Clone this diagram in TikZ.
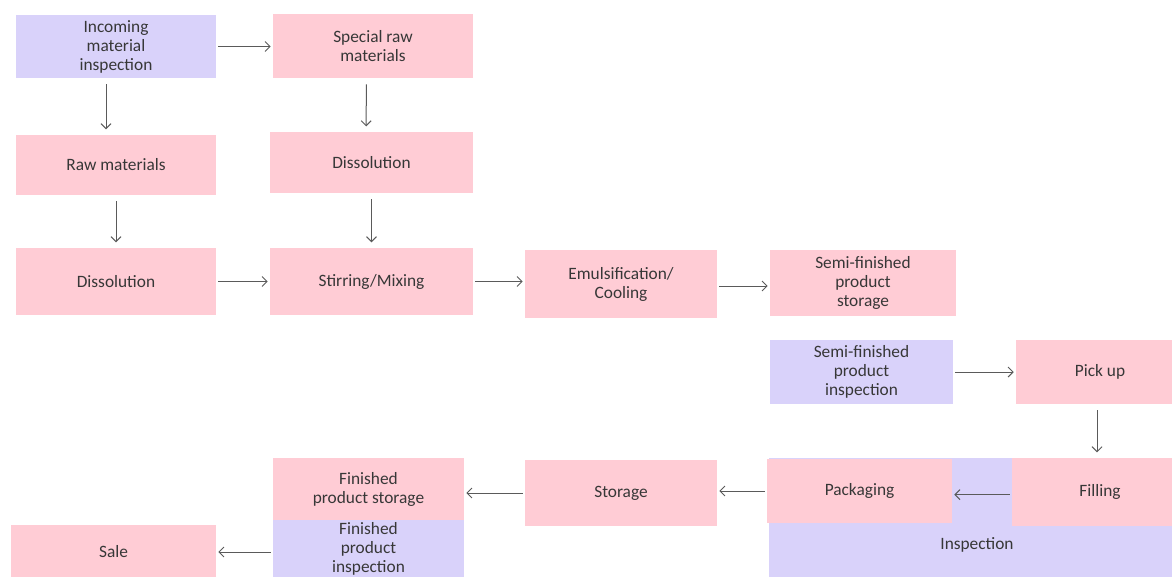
\documentclass[tikz,border=0pt]{standalone}
\usepackage{fontspec}
\setmainfont{Carlito}
\usetikzlibrary{arrows.meta}

\definecolor{stepPink}{RGB}{255,204,213}
\definecolor{checkLilac}{RGB}{217,210,250}
\definecolor{txtGray}{RGB}{55,55,55}
\definecolor{arrGray}{RGB}{90,90,90}

\tikzset{
    stage/.style={rectangle, fill=stepPink, inner sep=2pt, align=center,
        text=txtGray, font=\fontsize{13}{14.3}\selectfont},
    check/.style={stage, fill=checkLilac},
    sz/.style 2 args={minimum width=#1*0.75pt, minimum height=#2*0.75pt},
    flow/.style={arrGray, line width=0.75pt,
        -{Straight Barb[length=3.75pt,width=7.5pt]}, shorten <=1.5pt, shorten >=1.5pt},
    down/.style={flow, shorten <=4.5pt, shorten >=4pt}
}

\begin{document}
\begin{tikzpicture}[x=0.75pt, y=-0.75pt]
    \clip (0,0) rectangle (1172,576);
    \fill[white] (0,0) rectangle (1172,576);

    % intake and preparation
    \node[check, sz={200}{63}] (inc) at (116,46.5) {Incoming\\material\\inspection};
    \node[stage, sz={200}{64}] (spec) at (373,46) {Special raw\\materials};
    \node[stage, sz={200}{60}] (raw) at (116,165) {Raw materials};
    \node[stage, sz={203}{61}] (dis1) at (371.5,162.5) {Dissolution};
    \node[stage, sz={200}{67}] (dis2) at (116,281.5) {Dissolution};
    \node[stage, sz={203}{67}] (mix) at (371.5,281.5) {Stirring/Mixing};
    \node[stage, sz={192}{68}] (emul) at (621,284) {Emulsification/\\Cooling};
    \node[stage, sz={186}{66}] (semist) at (863,283) {Semi-finished\\product\\storage};

    % semi-finished goods
    \node[check, sz={183}{64}] (semiin) at (861.5,372) {Semi-finished\\product\\inspection};
    \node[stage, sz={168}{64}] (pick) at (1100,372) {Pick up};

    % filling and packing under inspection
    \node[check, sz={420}{122}] (insp) at (979,519) {};
    \node[check, inner sep=0pt] (insplbl) at (977,545) {Inspection};
    \node[stage, sz={185}{64}] (pack) at (859.5,491) {Packaging};
    \node[stage, sz={176}{68}] (fill) at (1100,492) {Filling};
    \node[stage, sz={192}{66}] (stor) at (621,493) {Storage};

    % finished goods
    \node[stage, sz={191}{62}] (finst) at (368.5,489) {Finished\\product storage};
    \node[check, sz={191}{58}] (finin) at (368.5,549) {Finished\\product\\inspection};
    \node[stage, sz={205}{54}] (sale) at (113.5,552) {Sale};

    % connectors
    \draw[flow] (inc.east) -- (inc.east -| spec.west);
    \draw[down] ([xshift=-7.5pt]inc.south) -- ([xshift=-7.5pt]raw.north);
    \draw[down] ([xshift=-5pt]spec.south) -- ([xshift=-4pt]dis1.north);
    \draw[down] (raw) -- (dis2);
    \draw[down] (dis1) -- (mix);
    \draw[flow] (dis2.east) -- (dis2.east -| mix.west);
    \draw[flow] (mix.east) -- (mix.east -| emul.west);
    \draw[flow] ([yshift=-1.5pt]emul.east) -- ([yshift=-1.5pt]emul.east -| semist.west);
    \draw[flow] (semiin.east) -- (semiin.east -| pick.west);
    \draw[down] ([xshift=-2.25pt]pick.south) -- ([xshift=-2.25pt]fill.north);
    \draw[flow] ([yshift=-2pt]fill.west) -- ([yshift=-2pt]fill.west -| pack.east);
    \draw[flow] (pack.west) -- (pack.west -| stor.east);
    \draw[flow] (stor.west) -- (stor.west -| finst.east);
    \draw[flow] (finin.west |- sale.east) -- (sale.east);
\end{tikzpicture}
\end{document}
